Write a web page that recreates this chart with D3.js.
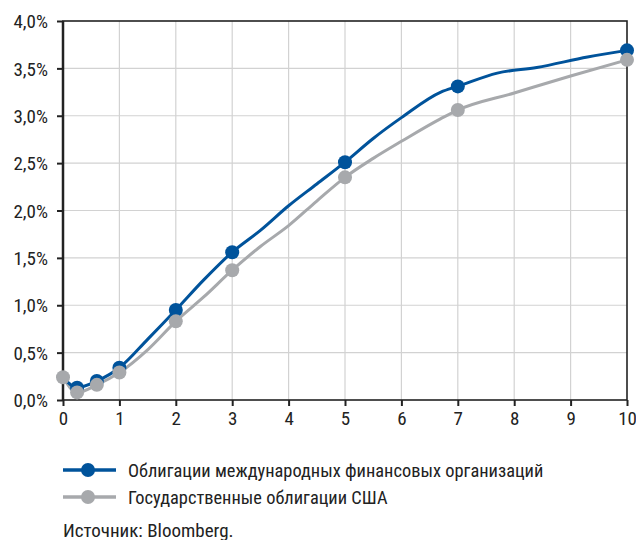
<!DOCTYPE html>
<html><head><meta charset="utf-8">
<script src="https://cdn.jsdelivr.net/npm/d3@7"></script>
<style>
body{margin:0;background:#fff;}
text{font-family:"Liberation Sans Narrow","Roboto Condensed","Liberation Sans",Arial,sans-serif;fill:#222;}
</style></head>
<body><svg id="c" width="636" height="540"></svg>
<script>
// Data
const xTicks = [0,1,2,3,4,5,6,7,8,9,10];
const yTicks = [0,0.5,1.0,1.5,2.0,2.5,3.0,3.5,4.0];
const seriesNames = ["Облигации международных финансовых организаций","Государственные облигации США"];
// maturity (years) and yield (%) — line paths
const ifoX = [0,0.25,0.6,1,1.5,2,2.5,3,3.5,4,4.5,5,5.5,6,6.7,7,7.7,8.4,9.3,10];
const ifoY = [0.24,0.13,0.2,0.34,0.64,0.95,1.27,1.56,1.79,2.05,2.28,2.51,2.76,2.98,3.25,3.31,3.45,3.51,3.62,3.69];
const ustX = [0,0.25,0.6,1,1.5,2,2.5,3,3.5,4,4.5,5,5.5,6,6.7,7,8,9,10];
const ustY = [0.24,0.08,0.16,0.29,0.53,0.83,1.09,1.37,1.62,1.84,2.1,2.35,2.55,2.73,2.97,3.06,3.24,3.42,3.59];
// marker positions
const ifoMarkX = [0.25,0.6,1,2,3,5,7,10];
const ifoMarkY = [0.13,0.2,0.34,0.95,1.56,2.51,3.31,3.69];
const ustMarkX = [0,0.25,0.6,1,2,3,5,7,10];
const ustMarkY = [0.24,0.08,0.16,0.29,0.83,1.37,2.35,3.06,3.59];
const sourceText = "Источник: Bloomberg.";

const colors = ["#00539b","#a7a9ac"];
const svg = d3.select("#c");
const L=63,R=627,T=21,B=400;
const x = d3.scaleLinear().domain([0,10]).range([L,R]);
const y = d3.scaleLinear().domain([0,4]).range([B,T]);
const fmt = v => d3.format(".1f")(v).replace(".",",")+"%";

// grid
const g = svg.append("g");
g.selectAll(".vg").data(xTicks.slice(1,-1)).join("line")
 .attr("x1",d=>x(d)).attr("x2",d=>x(d)).attr("y1",T).attr("y2",B)
 .attr("stroke","#d2d2d2").attr("stroke-width",1.2);
g.selectAll(".hg").data(yTicks.slice(1,-1)).join("line")
 .attr("x1",L).attr("x2",R).attr("y1",d=>y(d)).attr("y2",d=>y(d))
 .attr("stroke","#d2d2d2").attr("stroke-width",1.2);

// frame
svg.append("rect").attr("x",L).attr("y",T).attr("width",R-L).attr("height",B-T)
 .attr("fill","none").attr("stroke","#222").attr("stroke-width",1.6);
svg.append("line").attr("x1",L).attr("x2",L).attr("y1",T).attr("y2",B).attr("stroke","#222").attr("stroke-width",2.5);

// axes
const ya = svg.append("g").attr("transform",`translate(${L},0)`)
 .call(d3.axisLeft(y).tickValues(yTicks).tickFormat(fmt).tickSize(6).tickPadding(9));
const xa = svg.append("g").attr("transform",`translate(0,${B})`)
 .call(d3.axisBottom(x).tickValues(xTicks).tickFormat(d=>d).tickSize(6).tickPadding(6));
[ya,xa].forEach(a=>{a.select(".domain").remove();
 a.selectAll(".tick line").attr("stroke","#222").attr("stroke-width",2);
 a.selectAll(".tick text").attr("font-size",19).attr("fill","#222");});
ya.selectAll(".tick text").attr("dy","0.35em");

// lines
const line = d3.line().x(d=>x(d[0])).y(d=>y(d[1])).curve(d3.curveMonotoneX);
const ifo = d3.zip(ifoX,ifoY), ust = d3.zip(ustX,ustY);
svg.append("path").attr("d",line(ust)).attr("fill","none").attr("stroke",colors[1]).attr("stroke-width",3);
svg.append("path").attr("d",line(ifo)).attr("fill","none").attr("stroke",colors[0]).attr("stroke-width",3);
svg.selectAll(".mi").data(d3.zip(ifoMarkX,ifoMarkY)).join("circle")
 .attr("cx",d=>x(d[0])).attr("cy",d=>y(d[1])).attr("r",7).attr("fill",colors[0]);
svg.selectAll(".mu").data(d3.zip(ustMarkX,ustMarkY)).join("circle")
 .attr("cx",d=>x(d[0])).attr("cy",d=>y(d[1])).attr("r",7).attr("fill",colors[1]);

// legend
const lg = svg.append("g");
seriesNames.forEach((n,i)=>{
 const yy = 470 + i*27;
 lg.append("line").attr("x1",63).attr("x2",116).attr("y1",yy).attr("y2",yy).attr("stroke",colors[i]).attr("stroke-width",3.5);
 lg.append("circle").attr("cx",88).attr("cy",yy).attr("r",7).attr("fill",colors[i]);
 lg.append("text").attr("x",128).attr("y",yy+6.5).attr("font-size",18.4).text(n);
});
svg.append("text").attr("x",63).attr("y",536.5).attr("font-size",19).text(sourceText);
</script></body></html>
